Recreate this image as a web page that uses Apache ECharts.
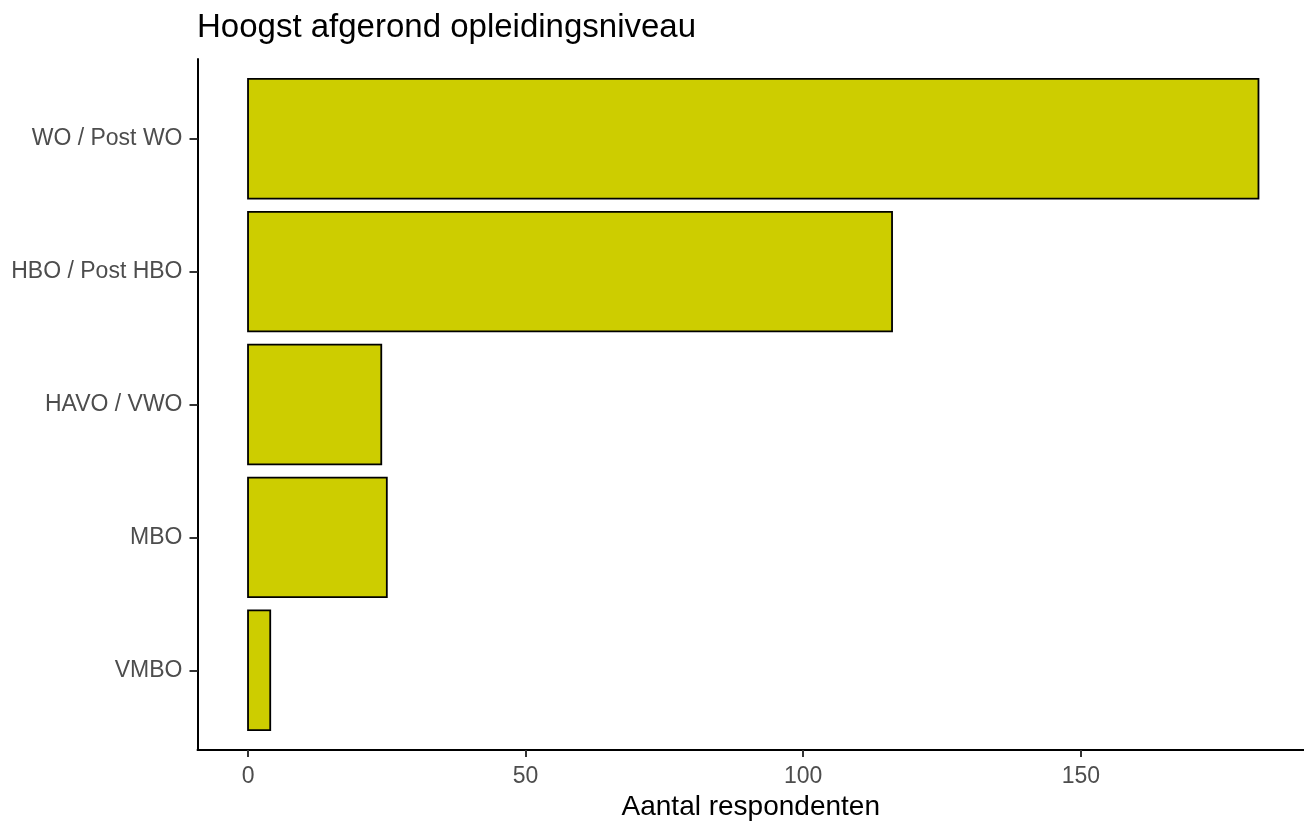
<!DOCTYPE html>
<html>
<head>
<meta charset="utf-8">
<script src="https://cdn.jsdelivr.net/npm/echarts@6/dist/echarts.min.js"></script>
<style>
html,body{margin:0;padding:0;background:#fff;}
#chart{width:1304px;height:831px;}
</style>
</head>
<body>
<div id="chart"></div>
<script>
var categories = ['WO / Post WO', 'HBO / Post HBO', 'HAVO / VWO', 'MBO', 'VMBO'];
var counts = [182, 116, 24, 25, 4];
var xTicks = [0, 50, 100, 150];
var yTicks = [1, 2, 3, 4, 5];
var xMin = -9.1;   // axis limits (right end clipped by the picture edge)
var xMax = 190.2;

var FONT = '"Liberation Sans", Arial, sans-serif';

var seriesData = counts.map(function (v, i) { return [v, i + 1]; });

var chart = echarts.init(document.getElementById('chart'), null, {renderer: 'canvas'});
chart.setOption({
  backgroundColor: '#ffffff',
  animation: false,
  textStyle: {fontFamily: FONT},
  title: {
    text: 'Hoogst afgerond opleidingsniveau',
    left: 197,
    top: 11,
    padding: 0,
    textStyle: {fontFamily: FONT, fontSize: 33, fontWeight: 'normal', color: '#000000'}
  },
  grid: {left: 197.5, top: 59, right: 0, bottom: 81, containLabel: false},
  xAxis: {
    type: 'value',
    min: xMin,
    max: xMax,
    name: 'Aantal respondenten',
    nameLocation: 'middle',
    nameGap: 42,
    nameTextStyle: {fontFamily: FONT, fontSize: 28, color: '#000000'},
    axisLine: {show: true, onZero: false, lineStyle: {color: '#000000', width: 2}},
    axisTick: {show: true, length: 7, customValues: xTicks, lineStyle: {color: '#333333', width: 2}},
    axisLabel: {show: true, customValues: xTicks, margin: 15, fontFamily: FONT, fontSize: 23, color: '#4D4D4D'},
    splitLine: {show: false}
  },
  yAxis: {
    type: 'value',
    inverse: true,
    min: 0.4,
    max: yTicks.length + 0.6,
    axisLine: {show: true, onZero: false, lineStyle: {color: '#000000', width: 2}},
    axisTick: {show: true, length: 8, customValues: yTicks, lineStyle: {color: '#333333', width: 2}},
    axisLabel: {
      show: true, customValues: yTicks, margin: 15,
      fontFamily: FONT, fontSize: 23, color: '#4D4D4D',
      formatter: function (v) { return categories[Math.round(v) - 1] || ''; }
    },
    splitLine: {show: false}
  },
  series: [{
    type: 'custom',
    data: seriesData,
    encode: {x: 0, y: 1},
    renderItem: function (params, api) {
      var v = api.value(0), c = api.value(1);
      var p0 = api.coord([0, c]);
      var p1 = api.coord([v, c]);
      var h = api.size([0, 0.9])[1];
      return {
        type: 'rect',
        shape: {x: p0[0], y: p0[1] - h / 2, width: p1[0] - p0[0], height: h},
        style: {fill: '#CDCD00', stroke: '#000000', lineWidth: 1.8}
      };
    }
  }]
});
</script>
</body>
</html>
